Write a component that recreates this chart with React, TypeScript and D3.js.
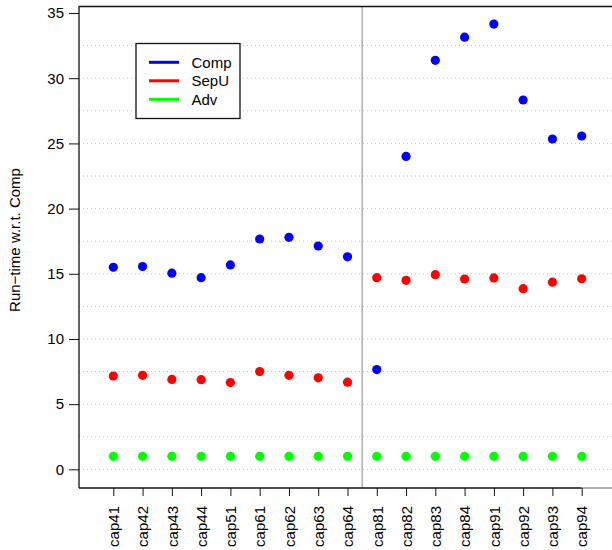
import React, { useEffect, useRef } from 'react';
import * as d3 from 'd3';

// instance names along the x axis
const instances = ['cap41', 'cap42', 'cap43', 'cap44', 'cap51', 'cap61', 'cap62', 'cap63', 'cap64',
  'cap81', 'cap82', 'cap83', 'cap84', 'cap91', 'cap92', 'cap93', 'cap94'];

const compValues = [15.5, 15.55, 15.05, 14.7, 15.68, 17.67, 17.8, 17.13, 16.3,
  7.65, 24.0, 31.37, 33.15, 34.15, 28.33, 25.34, 25.57];
const sepuValues = [7.16, 7.21, 6.9, 6.88, 6.66, 7.5, 7.21, 7.02, 6.69,
  14.7, 14.5, 14.93, 14.6, 14.68, 13.86, 14.36, 14.62];
const advValues = [1, 1, 1, 1, 1, 1, 1, 1, 1, 1, 1, 1, 1, 1, 1, 1, 1];

const yTicks = [0, 5, 10, 15, 20, 25, 30, 35];
const gridValues = d3.range(0, 33, 2.5);

const series = [
  { name: 'Comp', color: '#0000ff', values: compValues },
  { name: 'SepU', color: '#ff0000', values: sepuValues },
  { name: 'Adv', color: '#00ff00', values: advValues },
];

const width = 612;
const height = 550;
const box = { left: 79, top: 6, bottom: 488, right: 612 };
const font = 'Liberation Sans, Arial, Helvetica, sans-serif';

const App = () => {
  const svgRef = useRef<SVGSVGElement>(null);

  useEffect(() => {
    const svg = d3.select(svgRef.current);
    svg.selectAll('*').remove();

    const x = d3.scaleLinear().domain([1, 17]).range([113.3, 581.7]);
    const y = d3.scaleLinear().domain([-1.43, 35.54]).range([box.bottom, box.top]);

    // dotted grid
    svg.append('g')
      .selectAll('line')
      .data(gridValues)
      .join('line')
      .attr('x1', box.left)
      .attr('x2', box.right)
      .attr('y1', d => y(d))
      .attr('y2', d => y(d))
      .attr('stroke', '#c0c0c0')
      .attr('stroke-width', 1)
      .attr('stroke-dasharray', '1,3');

    // separator between the two groups
    svg.append('line')
      .attr('x1', x(9.5)).attr('x2', x(9.5))
      .attr('y1', box.top).attr('y2', box.bottom)
      .attr('stroke', '#999999')
      .attr('stroke-width', 1.2);

    // box
    svg.append('line')
      .attr('x1', box.left).attr('x2', box.right)
      .attr('y1', box.top + 0.5).attr('y2', box.top + 0.5)
      .attr('stroke', '#111').attr('stroke-width', 1.3);
    svg.append('line')
      .attr('x1', box.left).attr('x2', box.left)
      .attr('y1', box.top).attr('y2', box.bottom)
      .attr('stroke', '#111').attr('stroke-width', 1.3);
    svg.append('line')
      .attr('x1', x(17)).attr('x2', box.right)
      .attr('y1', box.bottom).attr('y2', box.bottom)
      .attr('stroke', '#888').attr('stroke-width', 1.3);

    // y axis
    const yAxis = d3.axisLeft(y)
      .tickValues(yTicks)
      .tickSize(10)
      .tickPadding(5)
      .tickSizeOuter(0);
    const gy = svg.append('g')
      .attr('transform', `translate(${box.left},0)`)
      .call(yAxis);
    gy.select('.domain').remove();
    gy.selectAll('line').attr('stroke', '#111');
    gy.selectAll('text')
      .attr('font-family', font)
      .attr('font-size', 15)
      .attr('fill', '#000');

    // x axis
    const xAxis = d3.axisBottom(x)
      .tickValues(d3.range(1, 18))
      .tickFormat((d: any) => instances[d - 1])
      .tickSize(8)
      .tickSizeOuter(0);
    const gx = svg.append('g')
      .attr('transform', `translate(0,${box.bottom})`)
      .call(xAxis);
    gx.select('.domain').remove();
    gx.selectAll('line').attr('stroke', '#111');
    gx.append('line')
      .attr('x1', box.left).attr('x2', x(17))
      .attr('stroke', '#111').attr('stroke-width', 1.3);
    gx.selectAll('text')
      .attr('font-family', font)
      .attr('font-size', 15)
      .attr('fill', '#000')
      .attr('text-anchor', 'end')
      .attr('transform', 'rotate(-90)')
      .attr('x', -18)
      .attr('y', 0)
      .attr('dy', '0.35em');

    // y label
    svg.append('text')
      .attr('transform', `translate(20,${(box.top + box.bottom) / 2 - 7}) rotate(-90)`)
      .attr('text-anchor', 'middle')
      .attr('font-family', font)
      .attr('font-size', 15)
      .text('Run\u2212time w.r.t. Comp');

    // points
    series.forEach(s => {
      svg.append('g')
        .selectAll('circle')
        .data(s.values)
        .join('circle')
        .attr('cx', (d, i) => x(i + 1))
        .attr('cy', d => y(d))
        .attr('r', 4.6)
        .attr('fill', s.color);
    });

    // legend
    const lg = svg.append('g');
    lg.append('rect')
      .attr('x', 136).attr('y', 43.5)
      .attr('width', 104).attr('height', 75)
      .attr('fill', '#fff')
      .attr('stroke', '#111')
      .attr('stroke-width', 1.3);
    series.forEach((s, i) => {
      const ly = 62.3 + i * 18.5;
      lg.append('line')
        .attr('x1', 149).attr('x2', 179)
        .attr('y1', ly).attr('y2', ly)
        .attr('stroke', s.color)
        .attr('stroke-width', 3);
      lg.append('text')
        .attr('x', 191.5)
        .attr('y', ly)
        .attr('dy', '0.35em')
        .attr('font-family', font)
        .attr('font-size', 15)
        .text(s.name);
    });
  }, []);

  return (
    <svg
      ref={svgRef}
      width={width}
      height={height}
      style={{ position: 'absolute', left: 0, top: 0, background: '#fff' }}
    />
  );
};

export default App;
